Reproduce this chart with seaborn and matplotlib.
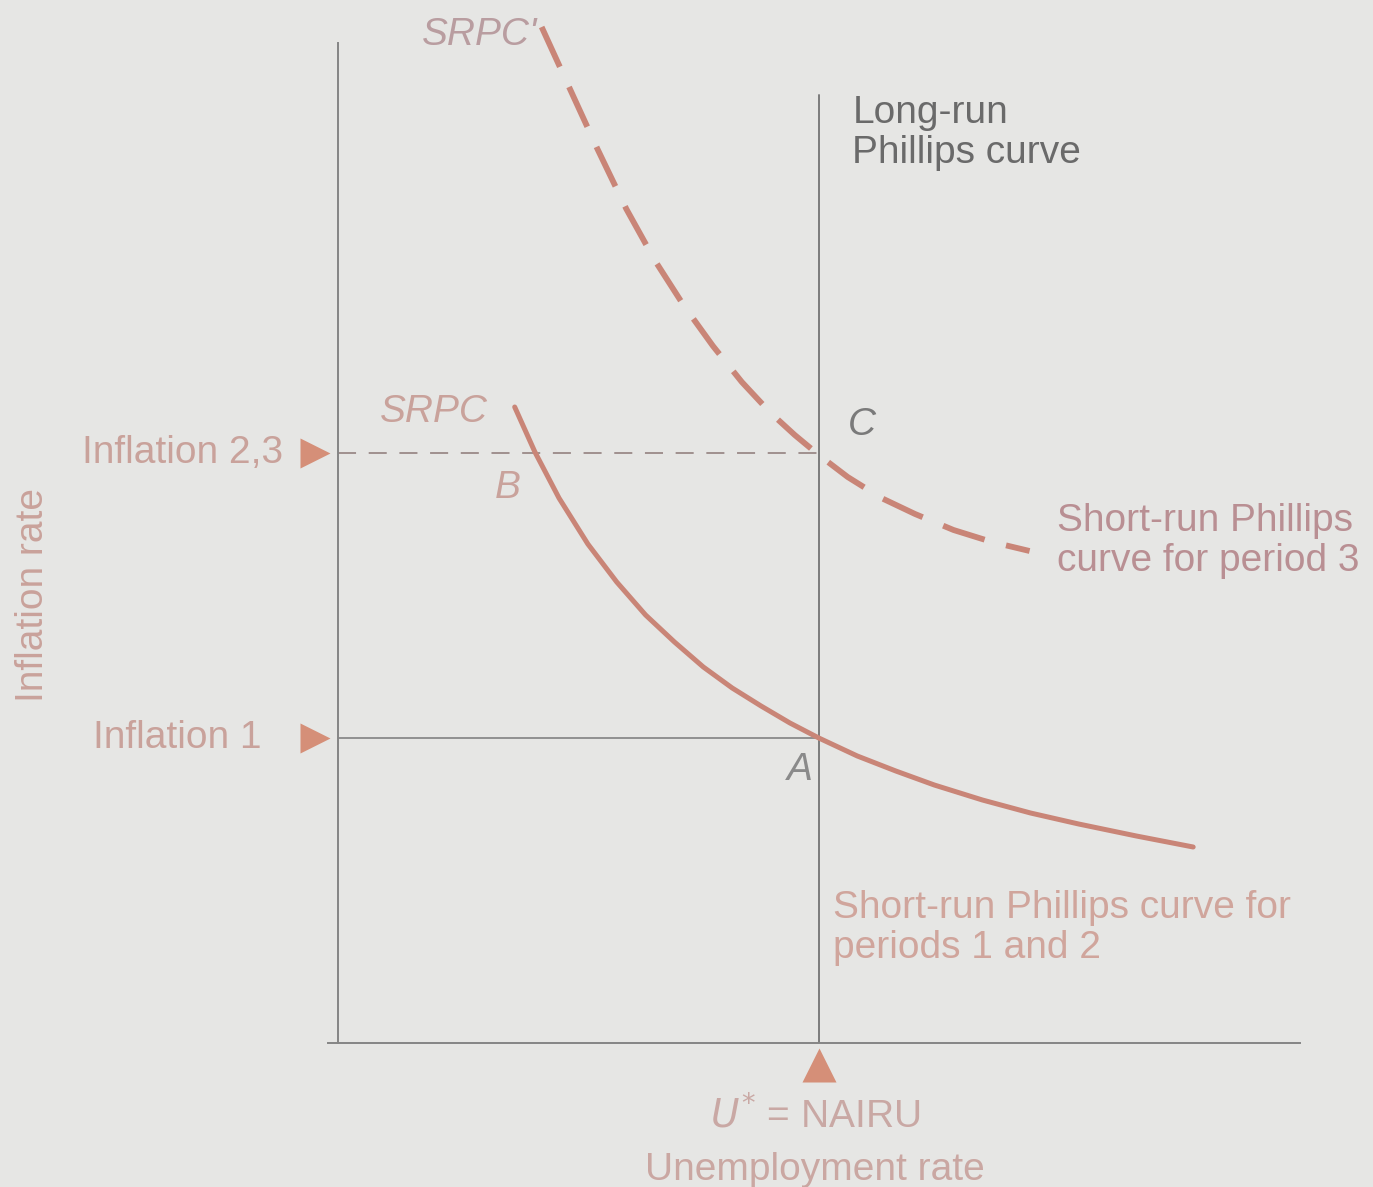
import matplotlib
matplotlib.use("Agg")
import matplotlib.pyplot as plt
import seaborn as sns

# ---- data (x = unemployment, y = inflation) ----
nairu = 5.0
inflation_1 = 3.05
inflation_23 = 5.90
lrpc_top = 9.48

# short-run Phillips curve, periods 1 and 2 (solid)
srpc_x = [1.84, 2.05, 2.30, 2.60, 2.90, 3.20, 3.50, 3.80, 4.10, 4.40,
          4.70, 5.00, 5.40, 5.80, 6.20, 6.70, 7.20, 7.70, 8.30, 8.89]
srpc_y = [6.36, 5.91, 5.45, 4.99, 4.61, 4.28, 4.01, 3.76, 3.55, 3.37,
          3.20, 3.05, 2.87, 2.72, 2.58, 2.43, 2.30, 2.19, 2.07, 1.96]

# short-run Phillips curve, period 3 (dashed)
srpc3_x = [2.12, 2.40, 2.70, 3.00, 3.30, 3.60, 3.90, 4.20, 4.50, 4.75,
           5.00, 5.30, 5.65, 6.00, 6.40, 6.80, 7.19]
srpc3_y = [10.16, 9.57, 8.94, 8.34, 7.82, 7.37, 6.97, 6.61, 6.30, 6.08,
           5.88, 5.66, 5.45, 5.29, 5.13, 5.01, 4.92]

level_labels = ["Inflation 1", "Inflation 2,3"]
level_values = [inflation_1, inflation_23]

# ---- colours ----
bg = "#e6e6e4"
curve_col = "#c98577"
pink_text = "#c9a29b"
mauve_text = "#b98f93"
marker_col = "#d58f78"
axis_col = "#858585"

sns.set_theme(style="white")
plt.rcParams["font.family"] = ["Liberation Sans", "DejaVu Sans"]
fs = 28

fig = plt.figure(figsize=(13.73, 11.87), dpi=100, facecolor=bg)
ax = fig.add_axes([328 / 1373, 1 - 1043 / 1187, (1300 - 328) / 1373, (1043 - 20) / 1187])
ax.set_facecolor(bg)
ax.set_xlim(-0.1, 10.0)
ax.set_ylim(0, 10.23)

# axes lines
for side in ["top", "right"]:
    ax.spines[side].set_visible(False)
ax.spines["left"].set_position(("data", 0))
ax.spines["left"].set_bounds(0, 10)
ax.spines["left"].set_color(axis_col)
ax.spines["bottom"].set_color(axis_col)
ax.spines["left"].set_linewidth(1.4)
ax.spines["bottom"].set_linewidth(1.4)
ax.set_xticks([])
ax.set_yticks([])

# long-run Phillips curve
sns.lineplot(x=[nairu, nairu], y=[0, lrpc_top], ax=ax, color="#7c7c7c", lw=1.4,
             estimator=None, sort=False)

# guide lines to the inflation levels
sns.lineplot(x=[0, nairu], y=[inflation_1, inflation_1], ax=ax, color="#8a8a8a", lw=1.3)
sns.lineplot(x=[0, nairu], y=[inflation_23, inflation_23], ax=ax, color="#9a8a88",
             lw=1.3, linestyle=(0, (10, 7)))

# curves
sns.lineplot(x=srpc_x, y=srpc_y, ax=ax, color=curve_col, lw=3.6,
             solid_joinstyle="round", solid_capstyle="round")
sns.lineplot(x=srpc3_x, y=srpc3_y, ax=ax, color=curve_col, lw=4.2,
             linestyle=(0, (7.5, 3.8)), clip_on=False)

# triangle markers
for v in level_values:
    ax.plot(-0.24, v, marker=">", color=marker_col, markersize=22, clip_on=False, mec="none")
ax.plot(nairu, -0.22, marker="^", color=marker_col, markersize=24, clip_on=False, mec="none")

# level labels
for lab, v in zip(level_labels, level_values):
    x_right = -0.79 if lab == "Inflation 1" else -0.57
    ax.text(x_right, v, lab, ha="right", va="center", fontsize=fs, color=pink_text, clip_on=False)

# curve labels
ax.text(2.07, 10.08, "SRPC'", ha="right", va="center", fontsize=fs, style="italic",
        color="#b99da0", clip_on=False)
ax.text(0.44, 6.31, "SRPC", ha="left", va="center", fontsize=fs, style="italic", color=pink_text)
ax.text(1.77, 5.55, "B", ha="center", va="center", fontsize=fs, style="italic", color=pink_text)
ax.text(4.80, 2.73, "A", ha="center", va="center", fontsize=fs, style="italic", color="#8a8a8a")
ax.text(5.45, 6.18, "C", ha="center", va="center", fontsize=fs, style="italic", color="#7a7a7a")

ax.text(5.35, 9.48, "Long-run\nPhillips curve", ha="left", va="top", fontsize=fs,
        color="#6a6a6a", linespacing=1.15)
ax.text(7.48, 5.40, "Short-run Phillips\ncurve for period 3", ha="left", va="top",
        fontsize=fs, color=mauve_text, linespacing=1.15, clip_on=False)
ax.text(5.15, 1.53, "Short-run Phillips curve for\nperiods 1 and 2", ha="left", va="top",
        fontsize=fs, color="#d0a59c", linespacing=1.15, clip_on=False)

# axis titles
ax.text(4.96, -0.72, "$U^{*}$ = NAIRU", ha="center", va="center", fontsize=fs,
        color="#c9a8a4", clip_on=False)
ax.text(4.96, -1.27, "Unemployment rate", ha="center", va="center", fontsize=fs,
        color="#caa7a2", clip_on=False)
fig.text(33 / 1373, 1 - 595 / 1187, "Inflation rate", rotation=90, ha="center", va="center",
         fontsize=fs, color="#c9a29b")

fig.savefig("out.png", dpi=100, facecolor=bg)
